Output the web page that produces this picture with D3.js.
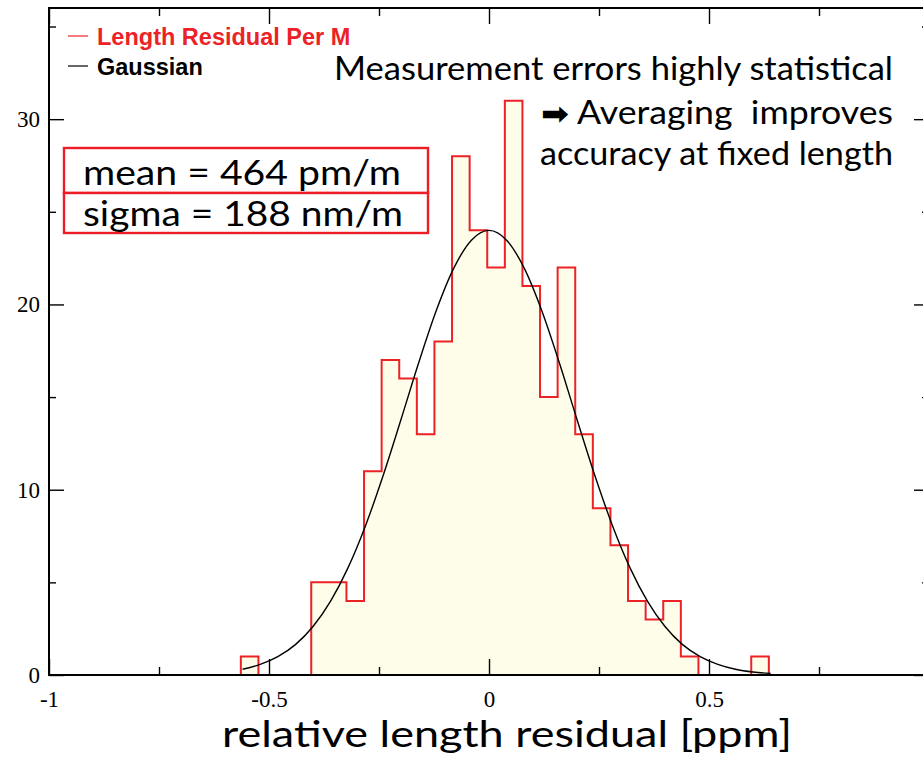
<!DOCTYPE html>
<html>
<head>
<meta charset="utf-8">
<script src="https://cdn.jsdelivr.net/npm/d3@7"></script>
<style>
  body { margin: 0; background: #fff; }
  text { white-space: pre; }
</style>
</head>
<body>
<div id="hist-chart"></div>
<script>
// Histogram bins (lower edges, plus last upper edge) and counts
var binEdges = [-0.564, -0.524, -0.484, -0.444, -0.404, -0.364, -0.324, -0.284, -0.244, -0.204,
  -0.164, -0.124, -0.084, -0.044, -0.004, 0.036, 0.076, 0.116, 0.156, 0.196,
  0.236, 0.276, 0.316, 0.356, 0.396, 0.436, 0.476, 0.516, 0.556, 0.596, 0.636];
var counts = [1, 0, 0, 0, 5, 5, 4, 11, 17, 16,
  13, 18, 28, 24, 22, 31, 21, 15, 22, 13,
  9, 7, 4, 3, 4, 1, 0, 0, 0, 1];

// Gaussian fit curve
var gaussX = [-0.56, -0.52, -0.48, -0.44, -0.40, -0.36, -0.32, -0.28, -0.24, -0.20, -0.16,
  -0.12, -0.08, -0.04, 0, 0.04, 0.08, 0.12, 0.16, 0.20, 0.24, 0.28, 0.32, 0.36, 0.40,
  0.44, 0.48, 0.52, 0.56, 0.60, 0.64];
var gaussY = [0.31, 0.57, 0.99, 1.64, 2.62, 3.99, 5.81, 8.10, 10.81, 13.79, 16.84,
  19.66, 21.96, 23.47, 24.0, 23.47, 21.96, 19.66, 16.84, 13.79, 10.81, 8.10, 5.81, 3.99, 2.62,
  1.64, 0.99, 0.57, 0.31, 0.16, 0.08];

// Axis ticks
var xMajor = [-1, -0.5, 0, 0.5, 1];
var xLabels = ["-1", "-0.5", "0", "0.5", ""];
var xMinor = [-0.75, -0.25, 0.25, 0.75];
var yMajor = [0, 10, 20, 30];
var yMinor = [5, 15, 25, 35];

// Text
var legendLabels = ["Length Residual Per M", "Gaussian"];
var statLines = ["mean = 464 pm/m", "sigma = 188 nm/m"];
var noteLines = ["Measurement errors highly statistical", " Averaging  improves", "accuracy at fixed length"];
var xTitle = "relative length residual [ppm]";

var width = 923, height = 760;
var plot = { left: 49, right: 929, top: 8, bottom: 675 };
var red = "#ec2227";

var svg = d3.select("#hist-chart")
  .append("svg")
  .attr("width", width)
  .attr("height", height)
  .style("display", "block");

svg.append("rect").attr("width", width).attr("height", height).attr("fill", "#fff");

var xScale = d3.scaleLinear().domain([-1, 1]).range([plot.left, plot.right]);
var yScale = d3.scaleLinear().domain([0, 36]).range([plot.bottom, plot.top]);

// Split the bins into runs of non-empty bins, and build step outlines
var runs = [];
var cur = null;
counts.forEach(function (c, i) {
  if (c > 0) {
    if (!cur) { cur = []; runs.push(cur); }
    cur.push(i);
  } else {
    cur = null;
  }
});

var stepLine = d3.line()
  .x(function (d) { return xScale(d[0]); })
  .y(function (d) { return yScale(d[1]); })
  .curve(d3.curveStepAfter);

runs.forEach(function (run) {
  var pts = [[binEdges[run[0]], 0]];
  run.forEach(function (i) { pts.push([binEdges[i], counts[i]]); });
  var last = run[run.length - 1];
  pts.push([binEdges[last + 1], counts[last]]);
  pts.push([binEdges[last + 1], 0]);

  svg.append("path")
    .attr("d", stepLine(pts))
    .attr("fill", "#fefde9")
    .attr("stroke", red)
    .attr("stroke-width", 2);
});

// Gaussian
svg.append("path")
  .datum(gaussX.map(function (x, i) { return [x, gaussY[i]]; }))
  .attr("fill", "none")
  .attr("stroke", "#000")
  .attr("stroke-width", 1.4)
  .attr("d", d3.line()
    .x(function (d) { return xScale(d[0]); })
    .y(function (d) { return yScale(d[1]); })
    .curve(d3.curveMonotoneX));

// Frame
svg.append("rect")
  .attr("x", plot.left)
  .attr("y", plot.top)
  .attr("width", plot.right - plot.left)
  .attr("height", plot.bottom - plot.top)
  .attr("fill", "none")
  .attr("stroke", "#000")
  .attr("stroke-width", 2);

function styleAxis(g) {
  g.select(".domain").remove();
  g.selectAll(".tick line").attr("stroke", "#000").attr("stroke-width", 1.4);
  g.selectAll(".tick text")
    .attr("fill", "#000")
    .style("font-family", "'Liberation Serif', 'Times New Roman', serif")
    .style("font-size", "23px");
}

// Bottom axis
svg.append("g")
  .attr("transform", "translate(0," + plot.bottom + ")")
  .call(d3.axisBottom(xScale).tickValues(xMajor).tickSizeInner(-16).tickSizeOuter(0)
    .tickPadding(16).tickFormat(function (d, i) { return xLabels[i]; }))
  .call(styleAxis);
svg.append("g")
  .attr("transform", "translate(0," + plot.bottom + ")")
  .call(d3.axisBottom(xScale).tickValues(xMinor).tickSizeInner(-8).tickSizeOuter(0).tickFormat(""))
  .call(styleAxis);

// Top axis (ticks only)
svg.append("g")
  .attr("transform", "translate(0," + plot.top + ")")
  .call(d3.axisTop(xScale).tickValues(xMajor).tickSizeInner(-16).tickSizeOuter(0).tickFormat(""))
  .call(styleAxis);
svg.append("g")
  .attr("transform", "translate(0," + plot.top + ")")
  .call(d3.axisTop(xScale).tickValues(xMinor).tickSizeInner(-8).tickSizeOuter(0).tickFormat(""))
  .call(styleAxis);

// Left axis
svg.append("g")
  .attr("transform", "translate(" + plot.left + ",0)")
  .call(d3.axisLeft(yScale).tickValues(yMajor).tickSizeInner(-15).tickSizeOuter(0).tickPadding(9))
  .call(styleAxis);
svg.append("g")
  .attr("transform", "translate(" + plot.left + ",0)")
  .call(d3.axisLeft(yScale).tickValues(yMinor).tickSizeInner(-7).tickSizeOuter(0).tickFormat(""))
  .call(styleAxis);

// Right axis (ticks only)
svg.append("g")
  .attr("transform", "translate(" + plot.right + ",0)")
  .call(d3.axisRight(yScale).tickValues(yMajor).tickSizeInner(-15).tickSizeOuter(0).tickFormat(""))
  .call(styleAxis);
svg.append("g")
  .attr("transform", "translate(" + plot.right + ",0)")
  .call(d3.axisRight(yScale).tickValues(yMinor).tickSizeInner(-7).tickSizeOuter(0).tickFormat(""))
  .call(styleAxis);

// Legend
var legendColors = [red, "#000"];
var legend = svg.append("g");
legendLabels.forEach(function (label, i) {
  var yy = 36 + i * 30;
  legend.append("line")
    .attr("x1", 68).attr("x2", 88)
    .attr("y1", yy).attr("y2", yy)
    .attr("stroke", legendColors[i])
    .attr("stroke-width", 1.2);
  legend.append("text")
    .attr("x", 97)
    .attr("y", yy + 8.5)
    .attr("fill", legendColors[i])
    .style("font-family", "'Liberation Sans', Arial, sans-serif")
    .style("font-weight", "bold")
    .style("font-size", "23.5px")
    .text(label);
});

// Stats boxes
var statWidths = [318, 320];
statLines.forEach(function (s, i) {
  var y0 = 148 + i * 45;
  svg.append("rect")
    .attr("x", 64).attr("y", y0)
    .attr("width", 364).attr("height", i === 0 ? 45 : 40)
    .attr("fill", "#fff")
    .attr("stroke", "#ee1c24")
    .attr("stroke-width", 2.4);
});
statLines.forEach(function (s, i) {
  svg.append("text")
    .attr("x", 83)
    .attr("y", 185 + i * 41)
    .attr("textLength", statWidths[i])
    .attr("lengthAdjust", "spacingAndGlyphs")
    .attr("fill", "#000")
    .style("font-family", "Lato, 'Open Sans', sans-serif")
    .style("font-size", "34px")
    .text(s);
});

// Note text, right aligned
var noteBase = [80, 124, 165];
var noteLeft = [334, 541, 540];
noteLines.forEach(function (s, i) {
  var t = svg.append("text")
    .attr("x", noteLeft[i])
    .attr("y", noteBase[i])
    .attr("textLength", 893 - noteLeft[i])
    .attr("lengthAdjust", "spacingAndGlyphs")
    .attr("fill", "#000")
    .style("font-family", "Lato, 'DejaVu Sans', sans-serif")
    .style("font-size", "32px");
  if (i === 1) {
    // heavy arrow in front of the second line
    t.append("tspan")
      .style("font-family", "'DejaVu Sans', sans-serif")
      .style("font-weight", "bold")
      .style("font-size", "30px")
      .text("\u27A1");
  }
  t.append("tspan").text(s);
});

// X axis title
svg.append("text")
  .attr("x", 222)
  .attr("y", 747)
  .attr("textLength", 570)
  .attr("lengthAdjust", "spacingAndGlyphs")
  .attr("fill", "#000")
  .style("font-family", "Lato, 'Open Sans', sans-serif")
  .style("font-size", "36px")
  .text(xTitle);
</script>
</body>
</html>
